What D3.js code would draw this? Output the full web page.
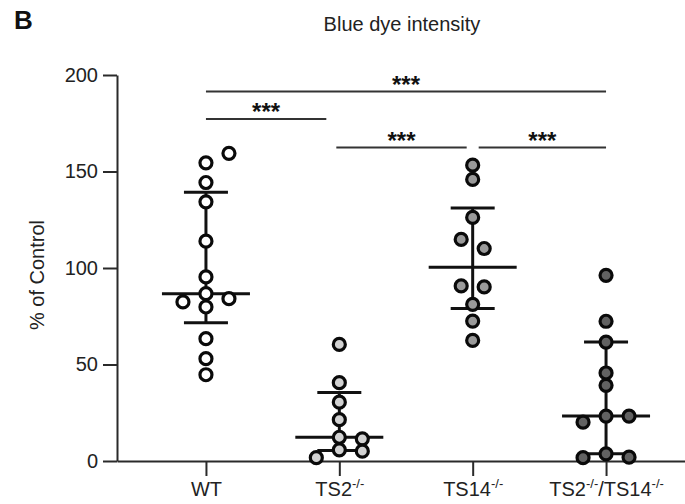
<!DOCTYPE html>
<html>
<head>
<meta charset="utf-8">
<script src="https://cdn.jsdelivr.net/npm/d3@7"></script>
<style>
  body { margin: 0; background: #fff; }
  svg { display: block; font-family: "Liberation Sans", Arial, sans-serif; }
</style>
</head>
<body>
<div id="chart"></div>
<script>
// group names, "-/-" is drawn as superscript
var groups = ["WT", "TS2-/-", "TS14-/-", "TS2-/-/TS14-/-"];

// % of control
var wtValues   = [159.4, 154.5, 144.3, 134.3, 113.9, 95.4, 86.7, 82.4, 84.1, 79.8, 63.4, 53.0, 44.7];
var ts2Values  = [60.4, 40.6, 30.5, 21.4, 12.3, 11.5, 5.8, 5.1, 1.7];
var ts14Values = [153.3, 145.9, 126.2, 114.8, 110.1, 90.7, 90.2, 81.2, 72.5, 62.5];
var dkoValues  = [96.2, 72.4, 61.6, 45.6, 39.2, 23.3, 23.3, 20.1, 3.7, 2.0, 1.7];

var yTicks = [0, 50, 100, 150, 200];

// significance comparisons: [from group, to group, label]
var comparisons = [
    [0, 3, "***"],
    [0, 1, "***"],
    [1, 2, "***"],
    [2, 3, "***"]
];

var width = 685, height = 504;
var fills = ["#ffffff", "#d2d2d2", "#9a9a9a", "#626262"];
var series = [wtValues, ts2Values, ts14Values, dkoValues];

var svg = d3.select("#chart").append("svg")
    .attr("width", width)
    .attr("height", height);

var x = d3.scalePoint()
    .domain(groups)
    .range([117, 695])
    .padding(0.667);

var y = d3.scaleLinear()
    .domain([0, 200])
    .range([461, 75]);

// quantile like Prism, (n+1) rank
function quantileN1(sorted, p) {
    var n = sorted.length;
    var pos = p * (n + 1);
    if (pos <= 1) return sorted[0];
    if (pos >= n) return sorted[n - 1];
    var lo = Math.floor(pos), frac = pos - lo;
    return sorted[lo - 1] + frac * (sorted[lo] - sorted[lo - 1]);
}

// simple swarm: start at the median, push colliding points to the side
function swarm(values) {
    var sorted = values.slice().sort(d3.ascending);
    var med = quantileN1(sorted, 0.5);
    var order = values.map(function (v, i) { return i; })
        .sort(function (a, b) { return Math.abs(values[a] - med) - Math.abs(values[b] - med); });
    var placed = [];
    var slots = new Array(values.length);
    order.forEach(function (i) {
        var py = y(values[i]);
        var cands = [0, 1, -1, 2, -2];
        for (var k = 0; k < cands.length; k++) {
            var s = cands[k];
            var hit = placed.some(function (p) { return p.slot === s && Math.abs(p.py - py) < 11; });
            if (!hit) { placed.push({ slot: s, py: py, i: i }); slots[i] = s; break; }
        }
    });
    // even sized groups: a lone pair sits either side of the centre
    if (values.length % 2 === 0) {
        placed.forEach(function (p) {
            if (p.slot !== 1) return;
            var mates = placed.filter(function (q) { return q.slot === 0 && Math.abs(q.py - p.py) < 11; });
            if (mates.length !== 1) return;
            var m = mates[0];
            var pHigh = values[p.i] > values[m.i];
            slots[p.i] = pHigh ? -0.5 : 0.5;
            slots[m.i] = pHigh ? 0.5 : -0.5;
        });
    }
    return slots;
}

// title and panel letter
svg.append("text")
    .attr("x", 14).attr("y", 29)
    .attr("font-size", "26px").attr("font-weight", "bold")
    .attr("fill", "#111")
    .text("B");

svg.append("text")
    .attr("x", 402).attr("y", 31)
    .attr("text-anchor", "middle")
    .attr("font-size", "20px")
    .attr("fill", "#222")
    .text("Blue dye intensity");

// y axis
var yAxis = svg.append("g")
    .attr("transform", "translate(117,0)")
    .call(d3.axisLeft(y).tickValues(yTicks).tickSize(14).tickSizeOuter(0).tickPadding(5));
yAxis.selectAll("path, line").attr("stroke", "#2a2a2a").attr("stroke-width", 2);
yAxis.selectAll("text").attr("font-size", "20px").attr("fill", "#222")
    .attr("font-family", "Liberation Sans, Arial, sans-serif");

svg.append("text")
    .attr("transform", "translate(44,275) rotate(-90)")
    .attr("text-anchor", "middle")
    .attr("font-size", "20px")
    .attr("fill", "#222")
    .text("% of Control");

// x axis
var xAxis = svg.append("g")
    .attr("transform", "translate(0," + y(0) + ")")
    .call(d3.axisBottom(x).tickSize(15).tickSizeOuter(0).tickPadding(6));
xAxis.selectAll("path, line").attr("stroke", "#2a2a2a").attr("stroke-width", 2);
xAxis.selectAll("text")
    .attr("font-size", "20px").attr("fill", "#222")
    .attr("font-family", "Liberation Sans, Arial, sans-serif")
    .attr("dy", "0.71em")
    .each(function (d) {
        var t = d3.select(this);
        t.text(null);
        var parts = d.split("-/-");
        var raised = false;
        parts.forEach(function (p, i) {
            if (p !== "") {
                var sp = t.append("tspan").text(p);
                if (raised) sp.attr("dy", 8);
                raised = false;
            }
            if (i < parts.length - 1) {
                t.append("tspan").attr("font-size", "13px").attr("dy", -8).text("-/-");
                raised = true;
            }
        });
    });

// median with interquartile range
series.forEach(function (vals, gi) {
    var s = vals.slice().sort(d3.ascending);
    var q1 = quantileN1(s, 0.25), med = quantileN1(s, 0.5), q3 = quantileN1(s, 0.75);
    var cx = x(groups[gi]);
    var g = svg.append("g").attr("stroke", "#111").attr("stroke-width", 3);
    g.append("line").attr("x1", cx).attr("x2", cx).attr("y1", y(q1)).attr("y2", y(q3));
    g.append("line").attr("x1", cx - 22).attr("x2", cx + 22).attr("y1", y(q1)).attr("y2", y(q1));
    g.append("line").attr("x1", cx - 22).attr("x2", cx + 22).attr("y1", y(q3)).attr("y2", y(q3));
    g.append("line").attr("x1", cx - 44).attr("x2", cx + 44).attr("y1", y(med)).attr("y2", y(med));
});

// points
series.forEach(function (vals, gi) {
    var slots = swarm(vals);
    var cx = x(groups[gi]);
    svg.append("g").selectAll("circle")
        .data(vals)
        .enter().append("circle")
        .attr("cx", function (d, i) { return cx + slots[i] * 23; })
        .attr("cy", function (d) { return y(d); })
        .attr("r", 6)
        .attr("fill", fills[gi])
        .attr("stroke", "#0a0a0a")
        .attr("stroke-width", 3.2);
});

// significance bars
var barRowY = [91.5, 119, 147.5, 147.5];
var barTrim = [[0, 0], [0, -13], [-3, -6], [6, 0]];
comparisons.forEach(function (c, i) {
    var x1 = x(groups[c[0]]) + barTrim[i][0];
    var x2 = x(groups[c[1]]) + barTrim[i][1];
    svg.append("line")
        .attr("x1", x1).attr("x2", x2)
        .attr("y1", barRowY[i]).attr("y2", barRowY[i])
        .attr("stroke", "#333").attr("stroke-width", 2);
    svg.append("text")
        .attr("x", (x1 + x2) / 2)
        .attr("y", barRowY[i] + 1)
        .attr("text-anchor", "middle")
        .attr("font-size", "24px").attr("font-weight", "bold")
        .attr("fill", "#111")
        .text(c[2]);
});
</script>
</body>
</html>
